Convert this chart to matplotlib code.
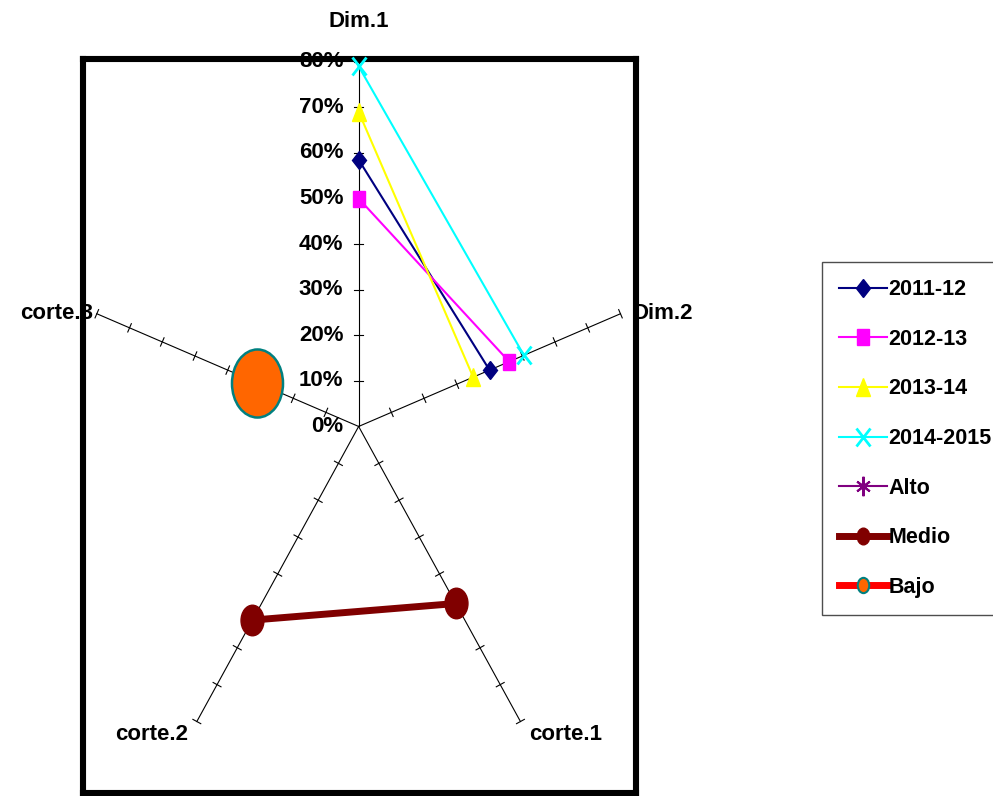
import numpy as np
import matplotlib.pyplot as plt
from matplotlib.lines import Line2D
from matplotlib.markers import MarkerStyle
from matplotlib.transforms import Affine2D

FONT = ["Liberation Sans Narrow", "Liberation Sans", "DejaVu Sans"]
FS = 16
plt.rcParams["font.family"] = FONT
plt.rcParams["font.weight"] = "bold"

# Radar data (None = blank cell)
spokes = ["Dim.1", "Dim.2", "corte.1", "corte.2", "corte.3"]
ring_values = [0.0, 0.1, 0.2, 0.3, 0.4, 0.5, 0.6, 0.7, 0.8]
ring_labels = ["0%", "10%", "20%", "30%", "40%", "50%", "60%", "70%", "80%"]

series_names = ["2011-12", "2012-13", "2013-14", "2014-2015", "Alto", "Medio", "Bajo"]
v_2011 = [0.585, 0.40, None, None, None]
v_2012 = [0.50, 0.46, None, None, None]
v_2013 = [0.69, 0.35, None, None, None]
v_2014 = [0.79, 0.505, None, None, None]
v_alto = [None, None, None, None, None]
v_medio = [None, None, 0.48, 0.525, None]
v_bajo = [None, None, None, None, 0.31]
all_values = [v_2011, v_2012, v_2013, v_2014, v_alto, v_medio, v_bajo]

fig = plt.figure(figsize=(9.93, 7.96), dpi=100)
ax = fig.add_axes([83 / 993, 3 / 796, 553 / 993, 734 / 796])
ax.set_xlim(-0.801, 0.806)
ax.set_ylim(-0.804, 0.806)
ax.set_xticks([])
ax.set_yticks([])
for sp in ax.spines.values():
    sp.set_linewidth(4.4)
    sp.set_color("black")
    sp.set_zorder(4)

angles = np.deg2rad([90 - 72 * k for k in range(len(spokes))])

# pixels per data unit, used to keep tick marks perpendicular on screen
sx = 553 / (0.806 + 0.801)
sy = 734 / (0.806 + 0.804)
rmax = ring_values[-1]

for k, th in enumerate(angles):
    c, s = np.cos(th), np.sin(th)
    ax.plot([0, rmax * c], [0, rmax * s], color="black", lw=0.8, zorder=2)
    ux, uy = c * sx, s * sy
    n = np.hypot(ux, uy)
    px, py = -uy / n, ux / n
    h = 4.5
    for r in ring_values[1:]:
        x0, y0 = r * c, r * s
        ax.plot([x0 - h * px / sx, x0 + h * px / sx],
                [y0 - h * py / sy, y0 + h * py / sy],
                color="black", lw=0.8, zorder=2)

# percent labels along the first spoke
for r, lab in zip(ring_values, ring_labels):
    ax.annotate(lab, (0, r), xytext=(-11, 0), textcoords="offset points",
                ha="right", va="center", fontsize=FS, fontweight="bold",
                annotation_clip=False, zorder=3)

# spoke names
name_offsets = [(0, 29, "center", "center"), (9, 0, "left", "center"),
                (6, -9, "left", "center"), (-6, -9, "right", "center"),
                (-3, 0, "right", "center")]
for name, th, (ox, oy, ha, va) in zip(spokes, angles, name_offsets):
    ax.annotate(name, (rmax * np.cos(th), rmax * np.sin(th)), xytext=(ox, oy),
                textcoords="offset points", ha=ha, va=va, fontsize=FS,
                fontweight="bold", annotation_clip=False, zorder=3)


def squeezed(m):
    return MarkerStyle(m, transform=Affine2D().scale(0.75, 1.0))


styles = [
    dict(color="#000080", marker=squeezed("D"), ms=9.5, lw=1.5),
    dict(color="#FF00FF", marker=squeezed("s"), ms=11, lw=1.5),
    dict(color="#FFFF00", marker=squeezed("^"), ms=13, lw=1.5),
    dict(color="#00FFFF", marker=squeezed("x"), ms=13, lw=1.5, mew=2),
    dict(color="#800080", marker=squeezed((6, 2, 0)), ms=12, lw=1.5, mew=1.5),
    dict(color="#800000", marker=squeezed("o"), ms=22, lw=5),
    dict(color="#FF0000", marker=squeezed("o"), ms=49, lw=5,
         mfc="#FF6600", mec="#008080", mew=1.8),
]

for vals, st in zip(all_values, styles):
    r = np.array([np.nan if v is None else v for v in vals])
    x = r * np.cos(angles)
    y = r * np.sin(angles)
    ax.plot(x, y, zorder=5, clip_on=False, **st)

# legend entries
leg_styles = [
    dict(color="#000080", marker=squeezed("D"), ms=9.5, lw=1.5),
    dict(color="#FF00FF", marker=squeezed("s"), ms=11, lw=1.5),
    dict(color="#FFFF00", marker=squeezed("^"), ms=13, lw=1.5),
    dict(color="#00FFFF", marker=squeezed("x"), ms=13, lw=1.5, mew=2),
    dict(color="#800080", marker=squeezed((6, 2, 0)), ms=14, lw=1.5, mew=1.5),
    dict(color="#800000", marker=squeezed("o"), ms=12, lw=5),
    dict(color="#FF0000", marker=squeezed("o"), ms=11, lw=5,
         mfc="#FF6600", mec="#008080", mew=1.5),
]
handles = [Line2D([], [], **st) for st in leg_styles]
leg = fig.legend(handles, series_names, loc="upper left",
                 bbox_to_anchor=(822 / 993, 1 - 262 / 796),
                 bbox_transform=fig.transFigure, borderaxespad=0,
                 borderpad=0.8, handlelength=2.2, handletextpad=0.1,
                 labelspacing=1.33, fancybox=False,
                 prop=dict(family=FONT, weight="bold", size=15.5))
leg.get_frame().set_edgecolor("#222222")
leg.get_frame().set_linewidth(1.0)

fig.savefig("out.png", dpi=100)
